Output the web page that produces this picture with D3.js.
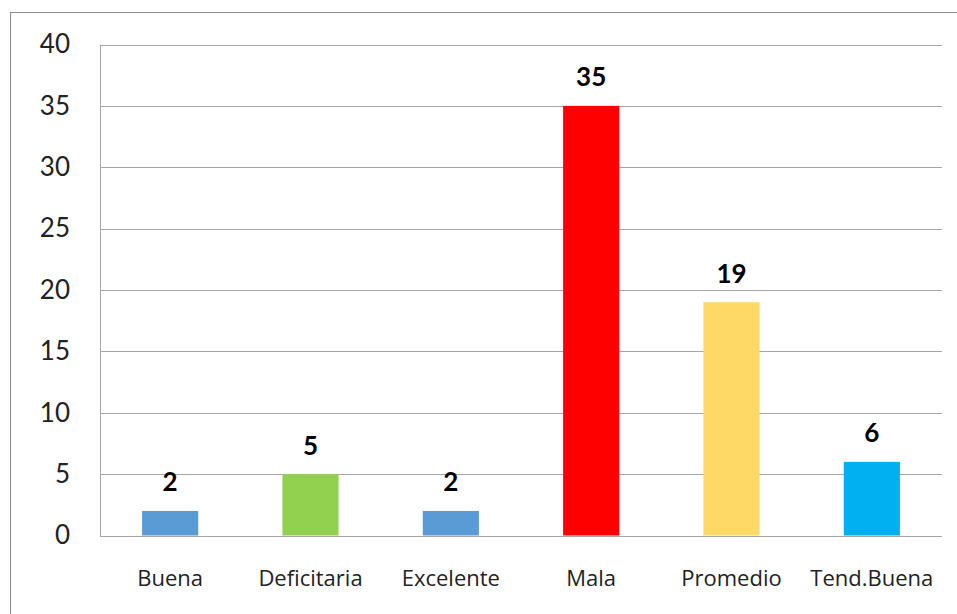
<!DOCTYPE html>
<html><head><meta charset="utf-8">
<script src="https://cdn.jsdelivr.net/npm/d3@7"></script>
<style>body{margin:0;background:#fff;}svg{display:block;}</style>
</head><body>
<svg id="c" width="957" height="614"></svg>
<script>
const categories = ["Buena","Deficitaria","Excelente","Mala","Promedio","Tend.Buena"];
const values = [2,5,2,35,19,6];
const colors = ["#5B9BD5","#92D050","#5B9BD5","#FF0000","#FFD966","#00B0F0"];
const yTicks = [0,5,10,15,20,25,30,35,40];

const svg = d3.select("#c");
const m = {left:100, top:44.5, right:942, bottom:535.5};
const font = "Lato, 'Open Sans', sans-serif";
const catFont = "'Open Sans', Lato, sans-serif";

svg.append("rect").attr("x",10.5).attr("y",12.5).attr("width",960).attr("height",620)
  .attr("fill","none").attr("stroke","#8c8c8c").attr("stroke-width",1);

const x = d3.scaleBand().domain(categories).range([m.left,m.right]).paddingInner(0.6).paddingOuter(0.3);
const y = d3.scaleLinear().domain([0,40]).range([m.bottom,m.top]);

const g = svg.append("g");
g.selectAll("line.grid").data(yTicks).enter().append("line")
  .attr("x1",m.left).attr("x2",m.right)
  .attr("y1",d=>Math.round(y(d))+0.5).attr("y2",d=>Math.round(y(d))+0.5)
  .attr("stroke","#a6a6a6").attr("stroke-width",1);
g.append("line").attr("x1",m.left+0.5).attr("x2",m.left+0.5)
  .attr("y1",Math.round(y(40))+0.5).attr("y2",Math.round(y(0))+0.5)
  .attr("stroke","#a6a6a6");

const yAxis = d3.axisLeft(y).tickValues(yTicks).tickSize(0).tickPadding(30);
const ya = svg.append("g").attr("transform",`translate(${m.left},0)`).call(yAxis);
ya.select(".domain").remove();
ya.selectAll("text").attr("font-family",font).attr("font-size",26).attr("fill","#222");

svg.selectAll("rect.bar").data(values).enter().append("rect")
  .attr("x",(d,i)=>x(categories[i])).attr("width",x.bandwidth())
  .attr("y",d=>y(d)).attr("height",d=>y(0)-y(d))
  .attr("fill",(d,i)=>colors[i]);

svg.selectAll("text.val").data(values).enter().append("text")
  .attr("x",(d,i)=>x(categories[i])+x.bandwidth()/2).attr("y",d=>y(d)-19.5)
  .attr("text-anchor","middle").attr("font-family",font).attr("font-weight","bold")
  .attr("font-size",26).attr("fill","#000").text(d=>d);

const xAxis = d3.axisBottom(x).tickSize(0).tickPadding(0);
const xa = svg.append("g").attr("transform",`translate(0,${m.bottom})`).call(xAxis);
xa.select(".domain").remove();
xa.selectAll("text").attr("dy",null).attr("y",50.5).attr("font-family",catFont).attr("font-size",22).attr("fill","#222");
</script>
</body></html>
